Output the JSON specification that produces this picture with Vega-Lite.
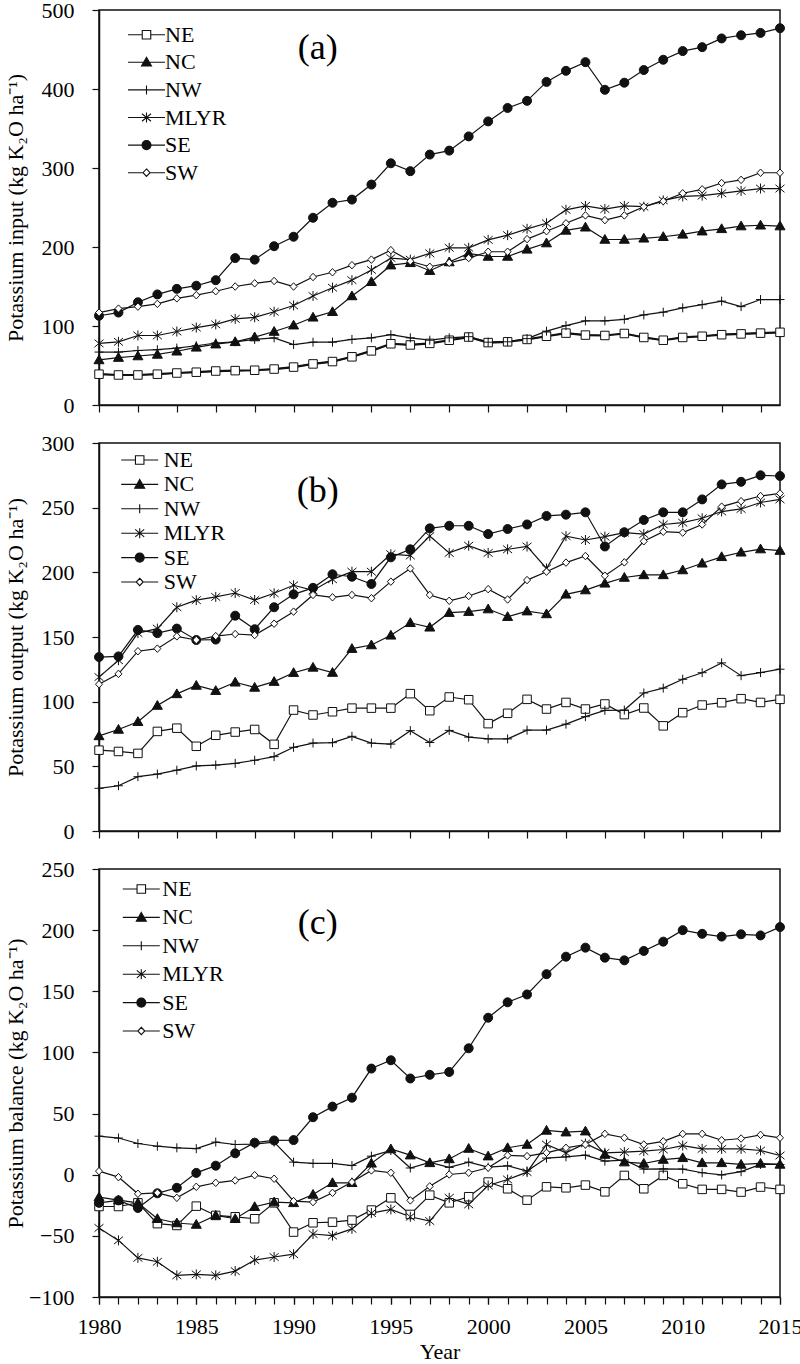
{
  "$schema": "https://vega.github.io/schema/vega-lite/v6.json",
  "background": "white",
  "padding": {"left": 3, "top": -2, "right": 0, "bottom": 6},
  "data": {"values": [
    {"p":"a","year":1980,"NE":39,"NC":57,"NW":67,"MLYR":78,"SE":113,"SW":117},
    {"p":"a","year":1981,"NE":38,"NC":60,"NW":67,"MLYR":80,"SE":117,"SW":122},
    {"p":"a","year":1982,"NE":38,"NC":62,"NW":69,"MLYR":88,"SE":130,"SW":124.5},
    {"p":"a","year":1983,"NE":39,"NC":64,"NW":70,"MLYR":88,"SE":140,"SW":128},
    {"p":"a","year":1984,"NE":40.5,"NC":68,"NW":72,"MLYR":93,"SE":147,"SW":135},
    {"p":"a","year":1985,"NE":41.5,"NC":73,"NW":75,"MLYR":98,"SE":151,"SW":139},
    {"p":"a","year":1986,"NE":43,"NC":77,"NW":78.5,"MLYR":102,"SE":158,"SW":144},
    {"p":"a","year":1987,"NE":43.5,"NC":80,"NW":80,"MLYR":109,"SE":186,"SW":150},
    {"p":"a","year":1988,"NE":44,"NC":86,"NW":83,"MLYR":111,"SE":184,"SW":154},
    {"p":"a","year":1989,"NE":45.5,"NC":93,"NW":85,"MLYR":118,"SE":201,"SW":157},
    {"p":"a","year":1990,"NE":48,"NC":101,"NW":76.5,"MLYR":126,"SE":213,"SW":150},
    {"p":"a","year":1991,"NE":52,"NC":111,"NW":79.5,"MLYR":138,"SE":237,"SW":162},
    {"p":"a","year":1992,"NE":55,"NC":118,"NW":79.5,"MLYR":148.5,"SE":256,"SW":168},
    {"p":"a","year":1993,"NE":61,"NC":138,"NW":83,"MLYR":158,"SE":260,"SW":177},
    {"p":"a","year":1994,"NE":68.5,"NC":156,"NW":85,"MLYR":171,"SE":279,"SW":184},
    {"p":"a","year":1995,"NE":77.5,"NC":177,"NW":89,"MLYR":186,"SE":306,"SW":196},
    {"p":"a","year":1996,"NE":76,"NC":180,"NW":85,"MLYR":184,"SE":296,"SW":182},
    {"p":"a","year":1997,"NE":78,"NC":170,"NW":82,"MLYR":192,"SE":317,"SW":175},
    {"p":"a","year":1998,"NE":82,"NC":181,"NW":85,"MLYR":199,"SE":322,"SW":180},
    {"p":"a","year":1999,"NE":86,"NC":192,"NW":86.5,"MLYR":199,"SE":340,"SW":186},
    {"p":"a","year":2000,"NE":79,"NC":188,"NW":79.5,"MLYR":209,"SE":359,"SW":194},
    {"p":"a","year":2001,"NE":80,"NC":188,"NW":80,"MLYR":215,"SE":376,"SW":194},
    {"p":"a","year":2002,"NE":83,"NC":197,"NW":84,"MLYR":223,"SE":385,"SW":210},
    {"p":"a","year":2003,"NE":87,"NC":205,"NW":93.5,"MLYR":230,"SE":409,"SW":220},
    {"p":"a","year":2004,"NE":91,"NC":221,"NW":100.5,"MLYR":247,"SE":423,"SW":230},
    {"p":"a","year":2005,"NE":88.5,"NC":225,"NW":106.5,"MLYR":252,"SE":434,"SW":240},
    {"p":"a","year":2006,"NE":88,"NC":209.5,"NW":106.5,"MLYR":248,"SE":399,"SW":234},
    {"p":"a","year":2007,"NE":90.5,"NC":209.5,"NW":108.5,"MLYR":252,"SE":408,"SW":240},
    {"p":"a","year":2008,"NE":85.5,"NC":211,"NW":114,"MLYR":251,"SE":424,"SW":251},
    {"p":"a","year":2009,"NE":82,"NC":213,"NW":117.5,"MLYR":259,"SE":437,"SW":258},
    {"p":"a","year":2010,"NE":85.5,"NC":216,"NW":123,"MLYR":264,"SE":448,"SW":268},
    {"p":"a","year":2011,"NE":87,"NC":220,"NW":127,"MLYR":265,"SE":453,"SW":273},
    {"p":"a","year":2012,"NE":89,"NC":223,"NW":131.5,"MLYR":268,"SE":464,"SW":281},
    {"p":"a","year":2013,"NE":90,"NC":226.5,"NW":124.5,"MLYR":271,"SE":468,"SW":285},
    {"p":"a","year":2014,"NE":91,"NC":227.5,"NW":133.5,"MLYR":274,"SE":471,"SW":294},
    {"p":"a","year":2015,"NE":92,"NC":226.5,"NW":133.5,"MLYR":274,"SE":477,"SW":294},
    {"p":"b","year":1980,"NE":62.5,"NC":73.5,"NW":33,"MLYR":119,"SE":134.5,"SW":113.5},
    {"p":"b","year":1981,"NE":61.5,"NC":78.5,"NW":35,"MLYR":132,"SE":135,"SW":121.5},
    {"p":"b","year":1982,"NE":60,"NC":84.5,"NW":42,"MLYR":153,"SE":155.5,"SW":139},
    {"p":"b","year":1983,"NE":77,"NC":97,"NW":44,"MLYR":156.5,"SE":153,"SW":141},
    {"p":"b","year":1984,"NE":79.5,"NC":106,"NW":47,"MLYR":173,"SE":156.5,"SW":150.5},
    {"p":"b","year":1985,"NE":65.5,"NC":112.5,"NW":50.3,"MLYR":178.5,"SE":147.7,"SW":147.7},
    {"p":"b","year":1986,"NE":74,"NC":108.5,"NW":51,"MLYR":181,"SE":148,"SW":150.7},
    {"p":"b","year":1987,"NE":76.5,"NC":115,"NW":52.3,"MLYR":184,"SE":166.5,"SW":152.3},
    {"p":"b","year":1988,"NE":78.5,"NC":111,"NW":54.7,"MLYR":178.6,"SE":156,"SW":151.5},
    {"p":"b","year":1989,"NE":67,"NC":115.5,"NW":57.5,"MLYR":183.8,"SE":173,"SW":160.3},
    {"p":"b","year":1990,"NE":93.5,"NC":122.4,"NW":64.7,"MLYR":190,"SE":183,"SW":169.6},
    {"p":"b","year":1991,"NE":89.7,"NC":126.5,"NW":68,"MLYR":186,"SE":188,"SW":182.5},
    {"p":"b","year":1992,"NE":92.2,"NC":122.5,"NW":68.3,"MLYR":194.6,"SE":198.5,"SW":180.7},
    {"p":"b","year":1993,"NE":95,"NC":141,"NW":73.2,"MLYR":200.5,"SE":196.6,"SW":182.5},
    {"p":"b","year":1994,"NE":95,"NC":143.8,"NW":68,"MLYR":200.5,"SE":191,"SW":180},
    {"p":"b","year":1995,"NE":95,"NC":151.3,"NW":67.2,"MLYR":214,"SE":211.6,"SW":192.8},
    {"p":"b","year":1996,"NE":106.2,"NC":161,"NW":77.6,"MLYR":213,"SE":217.8,"SW":203},
    {"p":"b","year":1997,"NE":93,"NC":157.5,"NW":68.4,"MLYR":228,"SE":234,"SW":182.5},
    {"p":"b","year":1998,"NE":103.6,"NC":168.8,"NW":77.8,"MLYR":215,"SE":236,"SW":178},
    {"p":"b","year":1999,"NE":101.5,"NC":169.6,"NW":72.6,"MLYR":220.6,"SE":236,"SW":181.7},
    {"p":"b","year":2000,"NE":83,"NC":171.6,"NW":71.2,"MLYR":215,"SE":229.6,"SW":187},
    {"p":"b","year":2001,"NE":91,"NC":165.7,"NW":71.2,"MLYR":217.8,"SE":233.5,"SW":179},
    {"p":"b","year":2002,"NE":101.8,"NC":170,"NW":78,"MLYR":220,"SE":237,"SW":194},
    {"p":"b","year":2003,"NE":94.3,"NC":167.8,"NW":78,"MLYR":203,"SE":243.6,"SW":200.5},
    {"p":"b","year":2004,"NE":99.4,"NC":183,"NW":82.6,"MLYR":228,"SE":244.6,"SW":207.5},
    {"p":"b","year":2005,"NE":94.3,"NC":186.3,"NW":88.4,"MLYR":225,"SE":246.4,"SW":212.6},
    {"p":"b","year":2006,"NE":98.2,"NC":191.5,"NW":93.3,"MLYR":227.6,"SE":220,"SW":197.4},
    {"p":"b","year":2007,"NE":90,"NC":196,"NW":93.5,"MLYR":230.7,"SE":231,"SW":207.7},
    {"p":"b","year":2008,"NE":95.1,"NC":198,"NW":106.7,"MLYR":229.6,"SE":240.5,"SW":224},
    {"p":"b","year":2009,"NE":81.3,"NC":198,"NW":110.5,"MLYR":237,"SE":246.4,"SW":231.4},
    {"p":"b","year":2010,"NE":91.5,"NC":201.8,"NW":117.3,"MLYR":238.4,"SE":246.4,"SW":230.7},
    {"p":"b","year":2011,"NE":97.4,"NC":207,"NW":122.4,"MLYR":241.8,"SE":256.4,"SW":237},
    {"p":"b","year":2012,"NE":99.2,"NC":212,"NW":130,"MLYR":247,"SE":268,"SW":250.8},
    {"p":"b","year":2013,"NE":102.3,"NC":215.5,"NW":120.1,"MLYR":249,"SE":270,"SW":255},
    {"p":"b","year":2014,"NE":99.4,"NC":218,"NW":122.5,"MLYR":254,"SE":275,"SW":259},
    {"p":"b","year":2015,"NE":101.8,"NC":216.8,"NW":125.1,"MLYR":256.4,"SE":274.5,"SW":261},
    {"p":"c","year":1980,"NE":-26,"NC":-18.3,"NW":31.5,"MLYR":-43.5,"SE":-23,"SW":2.9},
    {"p":"c","year":1981,"NE":-26,"NC":-20.8,"NW":30,"MLYR":-53.7,"SE":-21,"SW":-2},
    {"p":"c","year":1982,"NE":-23,"NC":-23,"NW":25.5,"MLYR":-68,"SE":-27.2,"SW":-15.6},
    {"p":"c","year":1983,"NE":-40,"NC":-36,"NW":23.3,"MLYR":-71.2,"SE":-15.2,"SW":-14.8},
    {"p":"c","year":1984,"NE":-41.5,"NC":-39.5,"NW":22,"MLYR":-82.3,"SE":-10.7,"SW":-18.9},
    {"p":"c","year":1985,"NE":-25.7,"NC":-40.7,"NW":21.3,"MLYR":-81.5,"SE":1.5,"SW":-9.9},
    {"p":"c","year":1986,"NE":-33.3,"NC":-33.3,"NW":26.7,"MLYR":-82.3,"SE":7.4,"SW":-6.6},
    {"p":"c","year":1987,"NE":-34.4,"NC":-36,"NW":24.7,"MLYR":-78.8,"SE":17.5,"SW":-4.7},
    {"p":"c","year":1988,"NE":-36,"NC":-26.2,"NW":25,"MLYR":-69.8,"SE":26.2,"SW":-0.4},
    {"p":"c","year":1989,"NE":-23,"NC":-22.4,"NW":26.7,"MLYR":-67.3,"SE":28,"SW":-3.3},
    {"p":"c","year":1990,"NE":-46.9,"NC":-23,"NW":10.3,"MLYR":-65,"SE":28.3,"SW":-21.6},
    {"p":"c","year":1991,"NE":-39.3,"NC":-16.2,"NW":9.2,"MLYR":-48.5,"SE":47,"SW":-22.4},
    {"p":"c","year":1992,"NE":-38.8,"NC":-6.6,"NW":9.2,"MLYR":-49.8,"SE":55.7,"SW":-14.8},
    {"p":"c","year":1993,"NE":-37.1,"NC":-6.6,"NW":7.5,"MLYR":-44.3,"SE":63,"SW":-6},
    {"p":"c","year":1994,"NE":-28.9,"NC":9.3,"NW":15.2,"MLYR":-31.4,"SE":86.8,"SW":3.5},
    {"p":"c","year":1995,"NE":-18.9,"NC":21,"NW":19.8,"MLYR":-28.4,"SE":93.6,"SW":1.6},
    {"p":"c","year":1996,"NE":-32.5,"NC":16,"NW":5.5,"MLYR":-34.4,"SE":78.7,"SW":-21},
    {"p":"c","year":1997,"NE":-16.7,"NC":9.7,"NW":10,"MLYR":-37.9,"SE":81.7,"SW":-9.5},
    {"p":"c","year":1998,"NE":-23,"NC":12.9,"NW":6,"MLYR":-18.9,"SE":84,"SW":0.2},
    {"p":"c","year":1999,"NE":-18,"NC":21.4,"NW":10.3,"MLYR":-24.3,"SE":103.4,"SW":1.6},
    {"p":"c","year":2000,"NE":-6,"NC":15.2,"NW":6.2,"MLYR":-8.8,"SE":128.4,"SW":5.7},
    {"p":"c","year":2001,"NE":-11.5,"NC":22,"NW":7.3,"MLYR":-3.9,"SE":141,"SW":15.8},
    {"p":"c","year":2002,"NE":-20.8,"NC":24.7,"NW":3,"MLYR":2.1,"SE":147.4,"SW":15.2},
    {"p":"c","year":2003,"NE":-9.9,"NC":36.2,"NW":13.6,"MLYR":24.7,"SE":164,"SW":17.9},
    {"p":"c","year":2004,"NE":-10.7,"NC":34.8,"NW":14.6,"MLYR":17.9,"SE":178.3,"SW":22},
    {"p":"c","year":2005,"NE":-8.5,"NC":35.6,"NW":16,"MLYR":25.5,"SE":185.7,"SW":24.7},
    {"p":"c","year":2006,"NE":-14,"NC":16.5,"NW":11.1,"MLYR":17.9,"SE":177.5,"SW":33.4},
    {"p":"c","year":2007,"NE":-0.6,"NC":10.3,"NW":12,"MLYR":18.5,"SE":175.3,"SW":30.2},
    {"p":"c","year":2008,"NE":-11.5,"NC":9.2,"NW":4.6,"MLYR":19.3,"SE":183,"SW":24.7},
    {"p":"c","year":2009,"NE":-0.6,"NC":12.4,"NW":4.8,"MLYR":20.6,"SE":190.6,"SW":27.3},
    {"p":"c","year":2010,"NE":-7.4,"NC":13.8,"NW":4.6,"MLYR":23.8,"SE":200,"SW":33.4},
    {"p":"c","year":2011,"NE":-12,"NC":9.7,"NW":1.6,"MLYR":21.1,"SE":197,"SW":33.4},
    {"p":"c","year":2012,"NE":-12,"NC":9.7,"NW":-0.2,"MLYR":21.1,"SE":194.7,"SW":28.2},
    {"p":"c","year":2013,"NE":-14.2,"NC":8.4,"NW":2.5,"MLYR":21.1,"SE":196.6,"SW":29.6},
    {"p":"c","year":2014,"NE":-10.1,"NC":9.2,"NW":8.4,"MLYR":19.8,"SE":195.7,"SW":32.6},
    {"p":"c","year":2015,"NE":-12,"NC":8.4,"NW":8.4,"MLYR":15.7,"SE":202.5,"SW":30.2}
  ]},
  "spacing": 38,
  "bounds": "flush",
  "resolve": {
    "scale": {"x": "independent", "y": "independent", "shape": "independent", "fill": "independent"},
    "legend": {"fill": "independent", "shape": "independent"}
  },
  "vconcat": [
    {
      "width": 681,
      "height": 395,
      "resolve": {"scale": {"fill": "independent"}, "legend": {"fill": "independent"}},
      "layer": [
        {
          "transform": [{"filter": "datum.p === 'a'"}, {"fold": ["NE", "NC", "NW", "MLYR", "SE", "SW"], "as": ["region", "value"]}],
          "mark": {"type": "line", "color": "#111", "strokeWidth": 1.2},
          "encoding": {
            "x": {"field": "year", "type": "quantitative", "scale": {"domain": [1980, 2015], "nice": false, "zero": false},
                  "axis": {"values": [1980,1981,1982,1983,1984,1985,1986,1987,1988,1989,1990,1991,1992,1993,1994,1995,1996,1997,1998,1999,2000,2001,2002,2003,2004,2005,2006,2007,2008,2009,2010,2011,2012,2013,2014,2015], "labels": false, "title": null}},
            "y": {"field": "value", "type": "quantitative", "scale": {"domain": [0, 500], "nice": false},
                  "axis": {"values": [0, 100, 200, 300, 400, 500], "title": "Potassium input (kg K₂O ha⁻¹)", "titleY": 197.5}},
            "detail": {"field": "region"}
          }
        },
        {
          "transform": [{"filter": "datum.p === 'a'"}, {"fold": ["NE"], "as": ["region", "value"]}],
          "mark": {"type": "line", "color": "#111", "strokeWidth": 2.2},
          "encoding": {
            "x": {"field": "year", "type": "quantitative"},
            "y": {"field": "value", "type": "quantitative"}
          }
        },
        {
          "transform": [{"filter": "datum.p === 'a'"}, {"fold": ["NE", "NC", "NW", "MLYR", "SE", "SW"], "as": ["region", "value"]}],
          "mark": {"type": "point", "filled": true, "stroke": "#111", "strokeWidth": 1, "opacity": 1, "size": 100},
          "encoding": {
            "x": {"field": "year", "type": "quantitative"},
            "y": {"field": "value", "type": "quantitative"},
            "shape": {"field": "region", "type": "nominal",
              "scale": {"domain": ["NE", "NC", "NW", "MLYR", "SE", "SW"],
                        "range": ["M-0.85,-0.85H0.85V0.85H-0.85Z", "M0,-1L1,0.75H-1Z", "M-0.9,0H0.9M0,-0.9V0.9", "M0,-1V1M-0.9,-0.75L0.9,0.75M-0.9,0.75L0.9,-0.75", "M-0.9,0A0.9,0.9,0,1,0,0.9,0A0.9,0.9,0,1,0,-0.9,0Z", "M0,-0.75L0.7,0L0,0.75L-0.7,0Z"]},
              "legend": null},
            "fill": {"field": "region", "type": "nominal", "scale": {"domain": ["NE", "NC", "NW", "MLYR", "SE", "SW"], "range": ["#fff", "#111", "#fff", "#fff", "#111", "#fff"]}, "legend": null}
          }
        },
        {
          "transform": [{"filter": "false"}, {"fold": ["NE", "NC", "NW", "MLYR", "SE", "SW"], "as": ["region", "value"]}],
          "mark": {"type": "point", "filled": true, "stroke": "#111", "strokeWidth": 1, "opacity": 1, "size": 100},
          "encoding": {
            "x": {"field": "year", "type": "quantitative"},
            "y": {"field": "value", "type": "quantitative"},
            "fill": {"field": "region", "type": "nominal", "scale": {"domain": ["NE", "NC", "NW", "MLYR", "SE", "SW"], "range": ["#fff", "#111", "#fff", "#fff", "#111", "#fff"]},
              "legend": {"orient": "none", "legendX": 36.5, "legendY": 13.7, "direction": "vertical", "title": null, "padding": 0,
                "labelOffset": 7.5, "rowPadding": 5.6, "symbolSize": 100, "symbolStrokeColor": "#111", "symbolStrokeWidth": 1.1,
                "symbolType": {"expr": "datum.value === 'NE' ? 'M-3.7,0H-0.85M0.85,0H3.7M-0.85,-0.85H0.85V0.85H-0.85Z' : datum.value === 'NC' ? 'M-3.7,0H3.7M0,-1L1,0.75H-1Z' : datum.value === 'NW' ? 'M-3.7,0H3.7M0,-0.9V0.9' : datum.value === 'MLYR' ? 'M-3.7,0H3.7M0,-1V1M-0.9,-0.75L0.9,0.75M-0.9,0.75L0.9,-0.75' : datum.value === 'SE' ? 'M-3.7,0H3.7M-0.9,0A0.9,0.9,0,1,0,0.9,0A0.9,0.9,0,1,0,-0.9,0Z' : 'M-3.7,0H-0.7M0.7,0H3.7M0,-0.75L0.7,0L0,0.75L-0.7,0Z'"}}}
          }
        },
        {
          "data": {"values": [{"t": "(a)"}]},
          "mark": {"type": "text", "font": "Liberation Serif", "fontSize": 36, "color": "#000", "align": "center", "baseline": "middle"},
          "encoding": {
            "x": {"datum": 1991.24, "type": "quantitative"},
            "y": {"datum": 452, "type": "quantitative"},
            "text": {"field": "t"}
          }
        }
      ]
    },
    {
      "width": 681,
      "height": 388,
      "resolve": {"scale": {"fill": "independent"}, "legend": {"fill": "independent"}},
      "layer": [
        {
          "transform": [{"filter": "datum.p === 'b'"}, {"fold": ["NE", "NC", "NW", "MLYR", "SE", "SW"], "as": ["region", "value"]}],
          "mark": {"type": "line", "color": "#111", "strokeWidth": 1.2},
          "encoding": {
            "x": {"field": "year", "type": "quantitative", "scale": {"domain": [1980, 2015], "nice": false, "zero": false},
                  "axis": {"values": [1980,1981,1982,1983,1984,1985,1986,1987,1988,1989,1990,1991,1992,1993,1994,1995,1996,1997,1998,1999,2000,2001,2002,2003,2004,2005,2006,2007,2008,2009,2010,2011,2012,2013,2014,2015], "labels": false, "title": null}},
            "y": {"field": "value", "type": "quantitative", "scale": {"domain": [0, 300], "nice": false},
                  "axis": {"values": [0, 50, 100, 150, 200, 250, 300], "title": "Potassium output (kg K₂O ha⁻¹)", "titleY": 194}},
            "detail": {"field": "region"}
          }
        },
        {
          "transform": [{"filter": "datum.p === 'b'"}, {"fold": ["NE", "NC", "NW", "MLYR", "SE", "SW"], "as": ["region", "value"]}],
          "mark": {"type": "point", "filled": true, "stroke": "#111", "strokeWidth": 1, "opacity": 1, "size": 100},
          "encoding": {
            "x": {"field": "year", "type": "quantitative"},
            "y": {"field": "value", "type": "quantitative"},
            "shape": {"field": "region", "type": "nominal",
              "scale": {"domain": ["NE", "NC", "NW", "MLYR", "SE", "SW"],
                        "range": ["M-0.85,-0.85H0.85V0.85H-0.85Z", "M0,-1L1,0.75H-1Z", "M-0.9,0H0.9M0,-0.9V0.9", "M0,-1V1M-0.9,-0.75L0.9,0.75M-0.9,0.75L0.9,-0.75", "M-0.9,0A0.9,0.9,0,1,0,0.9,0A0.9,0.9,0,1,0,-0.9,0Z", "M0,-0.75L0.7,0L0,0.75L-0.7,0Z"]},
              "legend": null},
            "fill": {"field": "region", "type": "nominal", "scale": {"domain": ["NE", "NC", "NW", "MLYR", "SE", "SW"], "range": ["#fff", "#111", "#fff", "#fff", "#111", "#fff"]}, "legend": null}
          }
        },
        {
          "transform": [{"filter": "false"}, {"fold": ["NE", "NC", "NW", "MLYR", "SE", "SW"], "as": ["region", "value"]}],
          "mark": {"type": "point", "filled": true, "stroke": "#111", "strokeWidth": 1, "opacity": 1, "size": 100},
          "encoding": {
            "x": {"field": "year", "type": "quantitative"},
            "y": {"field": "value", "type": "quantitative"},
            "fill": {"field": "region", "type": "nominal", "scale": {"domain": ["NE", "NC", "NW", "MLYR", "SE", "SW"], "range": ["#fff", "#111", "#fff", "#fff", "#111", "#fff"]},
              "legend": {"orient": "none", "legendX": 29.7, "legendY": 6, "direction": "vertical", "title": null, "padding": 0,
                "labelOffset": 13, "rowPadding": 2.4, "symbolSize": 100, "symbolStrokeColor": "#111", "symbolStrokeWidth": 1.1,
                "symbolType": {"expr": "datum.value === 'NE' ? 'M-3.7,0H-0.85M0.85,0H3.7M-0.85,-0.85H0.85V0.85H-0.85Z' : datum.value === 'NC' ? 'M-3.7,0H3.7M0,-1L1,0.75H-1Z' : datum.value === 'NW' ? 'M-3.7,0H3.7M0,-0.9V0.9' : datum.value === 'MLYR' ? 'M-3.7,0H3.7M0,-1V1M-0.9,-0.75L0.9,0.75M-0.9,0.75L0.9,-0.75' : datum.value === 'SE' ? 'M-3.7,0H3.7M-0.9,0A0.9,0.9,0,1,0,0.9,0A0.9,0.9,0,1,0,-0.9,0Z' : 'M-3.7,0H-0.7M0.7,0H3.7M0,-0.75L0.7,0L0,0.75L-0.7,0Z'"}}}
          }
        },
        {
          "data": {"values": [{"t": "(b)"}]},
          "mark": {"type": "text", "font": "Liberation Serif", "fontSize": 36, "color": "#000", "align": "center", "baseline": "middle"},
          "encoding": {
            "x": {"datum": 1991.24, "type": "quantitative"},
            "y": {"datum": 262.6, "type": "quantitative"},
            "text": {"field": "t"}
          }
        }
      ]
    },
    {
      "width": 681,
      "height": 428,
      "resolve": {"scale": {"fill": "independent"}, "legend": {"fill": "independent"}, "axis": {"x": "independent"}},
      "layer": [
        {
          "transform": [{"filter": "datum.p === 'c'"}, {"fold": ["NE", "NC", "NW", "MLYR", "SE", "SW"], "as": ["region", "value"]}],
          "mark": {"type": "line", "color": "#111", "strokeWidth": 1.2},
          "encoding": {
            "x": {"field": "year", "type": "quantitative", "scale": {"domain": [1980, 2015], "nice": false, "zero": false},
                  "axis": {"orient": "bottom", "values": [1980,1981,1982,1983,1984,1985,1986,1987,1988,1989,1990,1991,1992,1993,1994,1995,1996,1997,1998,1999,2000,2001,2002,2003,2004,2005,2006,2007,2008,2009,2010,2011,2012,2013,2014,2015], "labels": false, "title": null}},
            "y": {"field": "value", "type": "quantitative", "scale": {"domain": [-100, 250], "nice": false, "zero": false},
                  "axis": {"values": [-100, -50, 0, 50, 100, 150, 200, 250], "title": "Potassium balance (kg K₂O ha⁻¹)", "titleY": 214}},
            "detail": {"field": "region"}
          }
        },
        {
          "transform": [{"filter": "datum.p === 'c'"}, {"fold": ["NE", "NC", "NW", "MLYR", "SE", "SW"], "as": ["region", "value"]}],
          "mark": {"type": "point", "filled": true, "stroke": "#111", "strokeWidth": 1, "opacity": 1, "size": 100},
          "encoding": {
            "x": {"field": "year", "type": "quantitative",
                  "axis": {"orient": "bottom", "values": [1980, 1985, 1990, 1995, 2000, 2005, 2010, 2015], "format": "d", "labelOverlap": false, "labelBound": false, "labelFlush": false, "domain": false,
                           "labelPadding": 12, "title": "Year", "titlePadding": 4}},
            "y": {"field": "value", "type": "quantitative"},
            "shape": {"field": "region", "type": "nominal",
              "scale": {"domain": ["NE", "NC", "NW", "MLYR", "SE", "SW"],
                        "range": ["M-0.85,-0.85H0.85V0.85H-0.85Z", "M0,-1L1,0.75H-1Z", "M-0.9,0H0.9M0,-0.9V0.9", "M0,-1V1M-0.9,-0.75L0.9,0.75M-0.9,0.75L0.9,-0.75", "M-0.9,0A0.9,0.9,0,1,0,0.9,0A0.9,0.9,0,1,0,-0.9,0Z", "M0,-0.75L0.7,0L0,0.75L-0.7,0Z"]},
              "legend": null},
            "fill": {"field": "region", "type": "nominal", "scale": {"domain": ["NE", "NC", "NW", "MLYR", "SE", "SW"], "range": ["#fff", "#111", "#fff", "#fff", "#111", "#fff"]}, "legend": null}
          }
        },
        {
          "transform": [{"filter": "false"}, {"fold": ["NE", "NC", "NW", "MLYR", "SE", "SW"], "as": ["region", "value"]}],
          "mark": {"type": "point", "filled": true, "stroke": "#111", "strokeWidth": 1, "opacity": 1, "size": 100},
          "encoding": {
            "x": {"field": "year", "type": "quantitative", "axis": null},
            "y": {"field": "value", "type": "quantitative"},
            "fill": {"field": "region", "type": "nominal", "scale": {"domain": ["NE", "NC", "NW", "MLYR", "SE", "SW"], "range": ["#fff", "#111", "#fff", "#fff", "#111", "#fff"]},
              "legend": {"orient": "none", "legendX": 31.3, "legendY": 9, "direction": "vertical", "title": null, "padding": 0,
                "labelOffset": 10, "rowPadding": 6.4, "symbolSize": 100, "symbolStrokeColor": "#111", "symbolStrokeWidth": 1.1,
                "symbolType": {"expr": "datum.value === 'NE' ? 'M-3.7,0H-0.85M0.85,0H3.7M-0.85,-0.85H0.85V0.85H-0.85Z' : datum.value === 'NC' ? 'M-3.7,0H3.7M0,-1L1,0.75H-1Z' : datum.value === 'NW' ? 'M-3.7,0H3.7M0,-0.9V0.9' : datum.value === 'MLYR' ? 'M-3.7,0H3.7M0,-1V1M-0.9,-0.75L0.9,0.75M-0.9,0.75L0.9,-0.75' : datum.value === 'SE' ? 'M-3.7,0H3.7M-0.9,0A0.9,0.9,0,1,0,0.9,0A0.9,0.9,0,1,0,-0.9,0Z' : 'M-3.7,0H-0.7M0.7,0H3.7M0,-0.75L0.7,0L0,0.75L-0.7,0Z'"}}}
          }
        },
        {
          "data": {"values": [{"t": "(c)"}]},
          "mark": {"type": "text", "font": "Liberation Serif", "fontSize": 36, "color": "#000", "align": "center", "baseline": "middle"},
          "encoding": {
            "x": {"datum": 1991.24, "type": "quantitative", "axis": null},
            "y": {"datum": 205.8, "type": "quantitative"},
            "text": {"field": "t"}
          }
        }
      ]
    }
  ],
  "config": {
    "font": "Liberation Serif",
    "view": {"stroke": "#111", "strokeWidth": 1.5},
    "axis": {"labelFont": "Liberation Serif", "labelFontSize": 22, "labelColor": "#000", "titleFont": "Liberation Serif", "titleFontSize": 22, "titleFontWeight": "normal", "titleColor": "#000",
             "domainColor": "#111", "domainWidth": 1.5, "tickColor": "#111", "tickWidth": 1.2, "tickSize": 7, "grid": false},
    "axisY": {"labelPadding": 18, "titleX": -72},
    "axisX": {"labelPadding": 14, "labelFlush": false},
    "legend": {"labelFont": "Liberation Serif", "labelFontSize": 22, "labelColor": "#000", "symbolStrokeColor": "#111"}
  }
}
